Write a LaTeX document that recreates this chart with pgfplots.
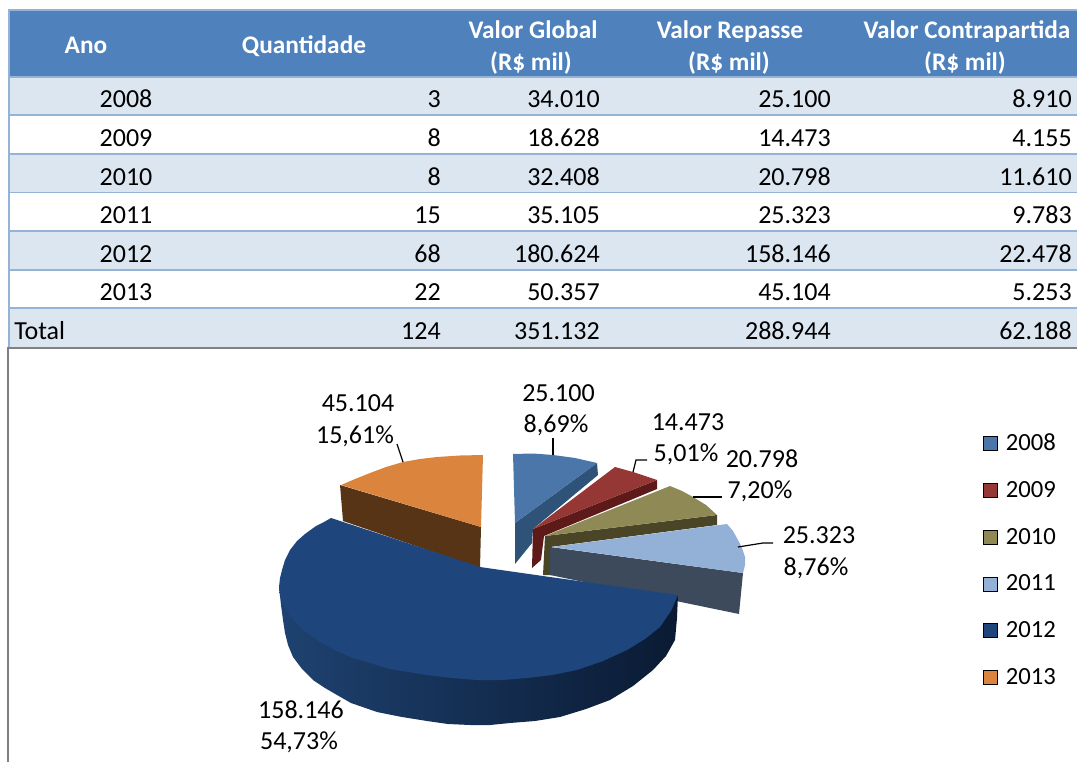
\documentclass[border=0pt]{standalone}
\usepackage{pgfplots}
\usepackage{fontspec}
\pgfplotsset{compat=1.18}
\setmainfont{Carlito}
\definecolor{hdr}{HTML}{4F81BD}
\definecolor{rowl}{HTML}{DCE6F1}
\definecolor{gridl}{HTML}{95B3D7}
\definecolor{cA}{HTML}{4A76AA}\definecolor{cAw}{HTML}{2F5278}
\definecolor{cB}{HTML}{953735}\definecolor{cBw}{HTML}{5E1A18}
\definecolor{cC}{HTML}{8F8A55}\definecolor{cCw}{HTML}{4A4526}
\definecolor{cD}{HTML}{93B1D6}\definecolor{cDw}{HTML}{3D4A5C}
\definecolor{cE}{HTML}{1F467C}
\definecolor{cF}{HTML}{DB843D}\definecolor{cFw}{HTML}{573416}
\definecolor{wL}{HTML}{1E4270}\definecolor{wM}{HTML}{13305A}\definecolor{wR}{HTML}{0A1A33}
\newcommand\tf{\fontsize{19.5}{22}\selectfont}
\newcommand\hf{\fontsize{19}{22}\selectfont\bfseries}
\newcommand\rowtxt[6]{%
  \node[anchor=base,inner sep=0pt,font=\tf] at (axis cs:126,#1) {#2};
  \node[anchor=base east,inner sep=0pt,font=\tf] at (axis cs:441,#1) {#3};
  \node[anchor=base east,inner sep=0pt,font=\tf] at (axis cs:600,#1) {#4};
  \node[anchor=base east,inner sep=0pt,font=\tf] at (axis cs:831,#1) {#5};
  \node[anchor=base east,inner sep=0pt,font=\tf] at (axis cs:1072,#1) {#6};
}
\newcommand\lab[3]{\node[anchor=base,inner sep=0pt,font=\tf] at (axis cs:#1,#2) {#3};}
\newcommand\hl[1]{\draw[gridl,line width=1.2pt] (axis cs:8,#1) -- (axis cs:1077,#1);}
\begin{document}
\begin{tikzpicture}
\useasboundingbox (0,0) rectangle (807.75pt,571.5pt);
\begin{axis}[
  at={(0,0)},anchor=south west,
  scale only axis,width=807.75pt,height=571.5pt,
  xmin=0,xmax=1077,ymin=0,ymax=762,y dir=reverse,
  hide axis,clip=false,
  legend style={at={(axis cs:983,431)},anchor=north west,draw=none,fill=none,
    font=\fontsize{18.5}{20}\selectfont,row sep=17.6pt,inner sep=0pt,outer sep=0pt},
  legend cell align=left,
  legend image code/.code={\fill[#1] (0pt,-5.2pt) rectangle (10.5pt,5.3pt);\path[draw=none,fill=none] (15pt,0pt) -- (15pt,1pt);},
]
% table backgrounds
\fill[hdr] (axis cs:8,10) rectangle (axis cs:1077,77);
\fill[rowl] (axis cs:8,77) rectangle (axis cs:1077,115);
\fill[rowl] (axis cs:8,154) rectangle (axis cs:1077,192.5);
\fill[rowl] (axis cs:8,231) rectangle (axis cs:1077,270);
\fill[rowl] (axis cs:8,308) rectangle (axis cs:1077,347);
\hl{10}\hl{77}\hl{115}\hl{154}\hl{192.5}\hl{231}\hl{270}\hl{308}
\draw[gridl,line width=1.2pt] (axis cs:9,10) -- (axis cs:9,347);
% chart frame
\draw[black!50,line width=0.9pt] (axis cs:1077,348) -- (axis cs:8,348) -- (axis cs:8,762);
% header
\node[anchor=base,inner sep=0pt,font=\hf,text=white] at (axis cs:86,54) {Ano};
\node[anchor=base,inner sep=0pt,font=\hf,text=white] at (axis cs:304,54) {Quantidade};
\node[anchor=base,inner sep=0pt,font=\hf,text=white] at (axis cs:533,39) {Valor Global};
\node[anchor=base,inner sep=0pt,font=\hf,text=white] at (axis cs:531,71) {(R\$ mil)};
\node[anchor=base,inner sep=0pt,font=\hf,text=white] at (axis cs:730,39) {Valor Repasse};
\node[anchor=base,inner sep=0pt,font=\hf,text=white] at (axis cs:729,71) {(R\$ mil)};
\node[anchor=base,inner sep=0pt,font=\hf,text=white] at (axis cs:967,39) {Valor Contrapartida};
\node[anchor=base,inner sep=0pt,font=\hf,text=white] at (axis cs:965,71) {(R\$ mil)};
% rows
\rowtxt{108}{2008}{3}{34.010}{25.100}{8.910}
\rowtxt{147}{2009}{8}{18.628}{14.473}{4.155}
\rowtxt{185.5}{2010}{8}{32.408}{20.798}{11.610}
\rowtxt{224}{2011}{15}{35.105}{25.323}{9.783}
\rowtxt{263}{2012}{68}{180.624}{158.146}{22.478}
\rowtxt{301}{2013}{22}{50.357}{45.104}{5.253}
\rowtxt{340}{}{124}{351.132}{288.944}{62.188}
\node[anchor=base west,inner sep=0pt,font=\tf] at (axis cs:14,340) {Total};
% 2008
\addplot[forget plot,draw=none,fill=cAw] coordinates {(515,523)(597,463)(598,475)(533,529)(532,543)(515,564)} --cycle;
\addplot[forget plot,draw=none,fill=cA] coordinates {(513,454)(533,453.5)(553,455)(575,458)(597,463)(515,523)} --cycle;
% 2009
\addplot[forget plot,draw=none,fill=cBw] coordinates {(533,529)(657,480)(657,489)(544,536)(541,560)(532,568)} --cycle;
\addplot[forget plot,draw=none,fill=cB] coordinates {(533,529)(615,467)(633,472)(657,480)} --cycle;
% 2010
\addplot[forget plot,draw=none,fill=cCw] coordinates {(545,536)(717,515)(717,525)(550,547)(552,575)(543,575)} --cycle;
\addplot[forget plot,draw=none,fill=cC] coordinates {(545,536)(670,486)(682,491)(693,497)(706,505)(717,515)} --cycle;
% 2011
\addplot[forget plot,draw=none,fill=cDw] coordinates {(550,547)(743,573)(739,614)(550,575)} --cycle;
\addplot[forget plot,draw=none,fill=cD] coordinates {(552,547)(727,524)(733,531)(738,540)(742,548)(745,557)(745,565)(743,573)} --cycle;
% 2013
\addplot[forget plot,draw=none,fill=cFw] coordinates {(340,485)(481,527)(480,568)(343,521)} --cycle;
\addplot[forget plot,draw=none,fill=cF] coordinates {(341,485)(355,479)(370,473)(386,467)(403,462)(420,459)(437,457)(460,455.5)(483,455)(481,527)} --cycle;
% 2012 wall
\addplot[forget plot,draw=none,left color=wL,middle color=wM,right color=wR] coordinates {
  (678,595)(677,618)(675,640)(666,656)(653,670)(633,686)(610,700)(586,709)(560,717)(535,721)(510,723)(490,725)(470,725)(448,724)(427,721)(402,717)(377,712)(351,703)(337,695)(325,688)(313,680)(302,669)(293,657)(288,645)(285,633)(283,620)(281,605)(279,587)(400,600)} --cycle;
% 2012 top
\addplot[forget plot,draw=none,fill=cE] coordinates {
  (331,518)(480,567)(550,577)(678,595)(671,611)(660,627)(645,639)(627,650)(603,661)(577,670)(552,675)(527,678)(502,680)(477,680)(452,678)(427,675)(402,671)(390,669)(370,663)(353,658)(337,651)(320,642)(303,630)(290,616)(283,604)(280,595)(279,587)(280,578)(282,570)(285,560)(290,550)(297,541)(305,534)(316,526)(324,522)} --cycle;
% leaders
\draw[black,line width=0.9pt] (axis cs:553,455) -- (axis cs:553,438);
\draw[black,line width=0.9pt] (axis cs:633,472) -- (axis cs:636,460) -- (axis cs:647,460);
\draw[black,line width=0.9pt] (axis cs:693,497) -- (axis cs:722,497);
\draw[black,line width=0.9pt] (axis cs:738,547) -- (axis cs:763,543) -- (axis cs:773,543);
\draw[black,line width=0.9pt] (axis cs:403,462) -- (axis cs:397,444);
% labels
\lab{558.5}{401.5}{25.100}\lab{556}{432.5}{8,69\%}
\lab{358}{411.5}{45.104}\lab{355}{443.5}{15,61\%}
\lab{688}{430.5}{14.473}\lab{686}{461.5}{5,01\%}
\lab{762}{467.5}{20.798}\lab{760}{498.5}{7,20\%}
\lab{819}{543.5}{25.323}\lab{816}{575.5}{8,76\%}
\lab{301}{718.5}{158.146}\lab{299}{749.5}{54,73\%}
% legend
\addlegendimage{fill=cA}\addlegendentry{2008}
\addlegendimage{fill=cB}\addlegendentry{2009}
\addlegendimage{fill=cC}\addlegendentry{2010}
\addlegendimage{fill=cD}\addlegendentry{2011}
\addlegendimage{fill=cE}\addlegendentry{2012}
\addlegendimage{fill=cF}\addlegendentry{2013}
\end{axis}
\end{tikzpicture}
\end{document}
